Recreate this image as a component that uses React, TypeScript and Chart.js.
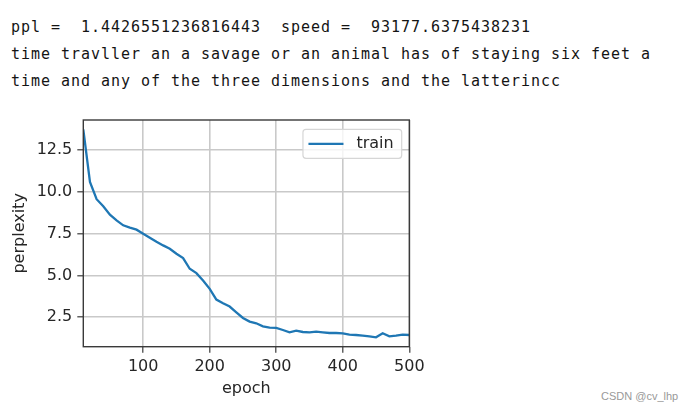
import React, { useEffect, useRef } from "react";
import { Chart, registerables } from "chart.js";

Chart.register(...registerables);

const headerLines = [
  "ppl =  1.4426551236816443  speed =  93177.6375438231",
  "time travller an a savage or an animal has of staying six feet a",
  "time and any of the three dimensions and the latterincc",
];

const epochs = [
  10, 20, 30, 40, 50, 60, 70, 80, 90, 100,
  110, 120, 130, 140, 150, 160, 170, 180, 190, 200,
  210, 220, 230, 240, 250, 260, 270, 280, 290, 300,
  310, 320, 330, 340, 350, 360, 370, 380, 390, 400,
  410, 420, 430, 440, 450, 460, 470, 480, 490, 500,
];

const trainPerplexity = [
  13.74, 10.6, 9.56, 9.14, 8.64, 8.3, 8.0, 7.86, 7.74, 7.5,
  7.26, 7.02, 6.8, 6.6, 6.3, 6.04, 5.4, 5.14, 4.7, 4.2,
  3.56, 3.34, 3.14, 2.8, 2.46, 2.24, 2.14, 1.96, 1.88, 1.86,
  1.74, 1.6, 1.7, 1.62, 1.6, 1.64, 1.6, 1.56, 1.56, 1.54,
  1.46, 1.44, 1.4, 1.36, 1.3, 1.54, 1.36, 1.4, 1.46, 1.44,
];

const xTickValues = [100, 200, 300, 400, 500];
const yTickValues = [2.5, 5.0, 7.5, 10.0, 12.5];
const seriesLabel = "train";
const xTitle = "epoch";
const yTitle = "perplexity";
const watermark = "CSDN @cv_lhp";

const FONT = "'DejaVu Sans', sans-serif";
const TEXT_COLOR = "#262626";

const framePlugin = {
  id: "frame",
  afterDatasetsDraw(chart: any) {
    const { ctx, chartArea } = chart;
    ctx.save();
    ctx.strokeStyle = "#3a3a3a";
    ctx.lineWidth = 1.4;
    ctx.strokeRect(
      chartArea.left,
      chartArea.top,
      chartArea.right - chartArea.left,
      chartArea.bottom - chartArea.top
    );
    ctx.restore();
  },
};

const boxLegendPlugin = {
  id: "boxLegend",
  afterDraw(chart: any) {
    const { ctx, chartArea } = chart;
    const ds = chart.data.datasets[0];
    ctx.save();
    ctx.font = `16px ${FONT}`;
    const textW = ctx.measureText(ds.label).width;
    const padL = 5.5;
    const lineLen = 35;
    const gap = 13;
    const padR = 8;
    const h = 29;
    const w = padL + lineLen + gap + textW + padR;
    const right = chartArea.right - 7.6;
    const left = right - w;
    const top = chartArea.top + 9.3;
    const r = 3;
    ctx.beginPath();
    ctx.moveTo(left + r, top);
    ctx.lineTo(left + w - r, top);
    ctx.quadraticCurveTo(left + w, top, left + w, top + r);
    ctx.lineTo(left + w, top + h - r);
    ctx.quadraticCurveTo(left + w, top + h, left + w - r, top + h);
    ctx.lineTo(left + r, top + h);
    ctx.quadraticCurveTo(left, top + h, left, top + h - r);
    ctx.lineTo(left, top + r);
    ctx.quadraticCurveTo(left, top, left + r, top);
    ctx.closePath();
    ctx.fillStyle = "rgba(255,255,255,0.8)";
    ctx.fill();
    ctx.strokeStyle = "#d6d6d6";
    ctx.lineWidth = 1.2;
    ctx.stroke();
    const cy = top + h / 2;
    ctx.beginPath();
    ctx.moveTo(left + padL, cy);
    ctx.lineTo(left + padL + lineLen, cy);
    ctx.strokeStyle = ds.borderColor;
    ctx.lineWidth = ds.borderWidth;
    ctx.stroke();
    ctx.fillStyle = TEXT_COLOR;
    ctx.textBaseline = "middle";
    ctx.textAlign = "left";
    ctx.fillText(ds.label, left + padL + lineLen + gap, cy);
    ctx.restore();
  },
};

function PerplexityChart() {
  const ref = useRef<HTMLCanvasElement | null>(null);
  useEffect(() => {
    if (!ref.current) return;
    const chart = new Chart(ref.current, {
      type: "line",
      data: {
        datasets: [
          {
            label: seriesLabel,
            data: epochs.map((e, i) => ({ x: e, y: trainPerplexity[i] })),
            borderColor: "#1f77b4",
            borderWidth: 2.3,
            pointRadius: 0,
            tension: 0,
            fill: false,
          },
        ],
      },
      options: {
        responsive: false,
        animation: false,
        devicePixelRatio: 1,
        layout: { padding: { top: 20, right: 30.7, bottom: 10, left: 0 } },
        plugins: {
          legend: { display: false },
          tooltip: { enabled: false },
        },
        scales: {
          x: {
            type: "linear",
            min: 10,
            max: 500,
            afterBuildTicks: (s: any) => {
              s.ticks = xTickValues.map((v) => ({ value: v }));
            },
            afterFit: (s: any) => {
              s.height = 53.3;
            },
            ticks: {
              font: { family: FONT, size: 16 },
              color: TEXT_COLOR,
              padding: 5,
              maxRotation: 0,
              autoSkip: false,
              callback: (v: any) => String(v),
            },
            grid: {
              color: "#c9c9c9",
              lineWidth: 1.6,
              tickColor: "#3a3a3a",
              tickLength: 6,
              tickWidth: 1.2,
            },
            border: { display: false },
            title: {
              display: true,
              text: xTitle,
              font: { family: FONT, size: 16 },
              color: TEXT_COLOR,
              padding: { top: 0, bottom: 1.5 },
            },
          },
          y: {
            type: "linear",
            min: 0.74,
            max: 14.3,
            afterBuildTicks: (s: any) => {
              s.ticks = yTickValues.map((v) => ({ value: v }));
            },
            afterFit: (s: any) => {
              s.width = 83.3;
            },
            ticks: {
              font: { family: FONT, size: 16 },
              color: TEXT_COLOR,
              padding: 5,
              autoSkip: false,
              callback: (v: any) => Number(v).toFixed(1),
            },
            grid: {
              color: "#c9c9c9",
              lineWidth: 1.6,
              tickColor: "#3a3a3a",
              tickLength: 6,
              tickWidth: 1.2,
            },
            border: { display: false },
            title: {
              display: true,
              text: yTitle,
              font: { family: FONT, size: 16 },
              color: TEXT_COLOR,
              padding: { top: 10, bottom: 0 },
            },
          },
        },
      },
      plugins: [framePlugin, boxLegendPlugin],
    } as any);
    return () => chart.destroy();
  }, []);
  return (
    <canvas
      ref={ref}
      width={440}
      height={310}
      style={{ position: "absolute", left: 0, top: 100, width: 440, height: 310 }}
    />
  );
}

export default function App() {
  return (
    <div
      style={{
        position: "fixed",
        left: 0,
        top: 0,
        width: 694,
        height: 412,
        background: "#ffffff",
        overflow: "hidden",
      }}
    >
      <div
        style={{
          position: "absolute",
          left: 11,
          top: 13.8,
          fontFamily: "'DejaVu Sans Mono', monospace",
          fontSize: 15,
          letterSpacing: "0.97px",
          lineHeight: "27px",
          color: "#141414",
          whiteSpace: "pre",
        }}
      >
        {headerLines.map((l, i) => (
          <div key={i}>{l}</div>
        ))}
      </div>
      <PerplexityChart />
      <div
        style={{
          position: "absolute",
          left: 601,
          top: 390,
          fontFamily: "'Liberation Sans', Arial, sans-serif",
          fontSize: 11,
          color: "#999999",
          whiteSpace: "pre",
        }}
      >
        {watermark}
      </div>
    </div>
  );
}
